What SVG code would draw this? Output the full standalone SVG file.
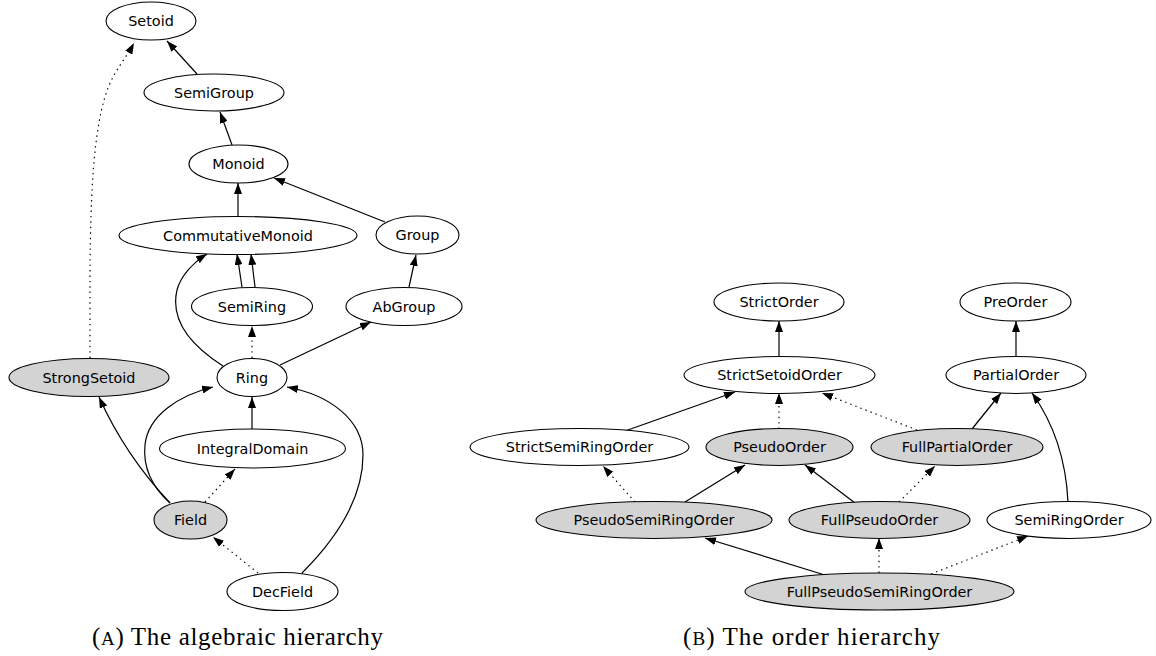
<svg xmlns="http://www.w3.org/2000/svg" width="1156" height="656" viewBox="0 0 1156 656">
<style>
.n ellipse{fill:#fff;stroke:#000;stroke-width:1.1}
.n.g ellipse{fill:#d3d3d3}
.n text{font-family:"DejaVu Sans",sans-serif;font-size:14.4px;text-anchor:middle;fill:#000}
.e path{fill:none;stroke:#000;stroke-width:1.2;marker-end:url(#ah)}
.e path.d{stroke-dasharray:1.4 4}
.cap{font-family:"Liberation Serif",serif;font-size:25px;fill:#000}
</style>
<defs>
<marker id="ah" markerUnits="userSpaceOnUse" markerWidth="11" markerHeight="8" refX="11" refY="4" orient="auto">
<path d="M0,0 L11,4 L0,8 z" fill="#000" stroke="none"/>
</marker>
</defs>
<rect width="1156" height="656" fill="#fff"/>
<g id="connectors" class="e">
<path d="M197,74 L167,41"/>
<path d="M232,145 L220,112"/>
<path d="M238,216 L238,183"/>
<path d="M385,222 L274,178"/>
<path d="M409,287 L416,255"/>
<path d="M242,287 L237,254"/>
<path d="M255,287 L251,254"/>
<path d="M223,366 C190,345 170,320 177,290 C181,275 194,262 207,254"/>
<path class="d" d="M252,358 L252,326"/>
<path d="M280,365 L371,322"/>
<path class="d" d="M90,358 C90,250 88,140 108,88 C115,70 126,58 134,43"/>
<path d="M170,503 Q125,455 99,397"/>
<path d="M170,503 C150,485 143,465 145,445 C148,415 180,395 213,387"/>
<path d="M252,429 L252,397"/>
<path class="d" d="M205,502 L235,469"/>
<path class="d" d="M258,573 L213,537"/>
<path d="M302,573 C335,540 363,500 363,455 C363,420 330,395 287,387"/>
<path d="M779,357 L779,321"/>
<path d="M1016,357 L1016,321"/>
<path d="M625,431 L735,392"/>
<path class="d" d="M779,429 L779,393"/>
<path class="d" d="M917,430 L822,393"/>
<path d="M972,429 L1001,393"/>
<path d="M1068,502 C1066,460 1055,425 1032,393"/>
<path class="d" d="M635,502 L603,466"/>
<path d="M685,502 L745,465"/>
<path d="M855,503 L805,465"/>
<path class="d" d="M899,502 L935,466"/>
<path d="M828,576 L705,538"/>
<path class="d" d="M879,573 L879,538"/>
<path class="d" d="M926,576 L1028,536"/>
</g>
<g id="Setoid" class="n"><ellipse cx="151" cy="21" rx="45" ry="19"/><text x="151" y="26">Setoid</text></g>
<g id="SemiGroup" class="n"><ellipse cx="214" cy="92.5" rx="70" ry="18.5"/><text x="214" y="97.5">SemiGroup</text></g>
<g id="Monoid" class="n"><ellipse cx="238.5" cy="164" rx="49.5" ry="19"/><text x="238.5" y="169">Monoid</text></g>
<g id="CommutativeMonoid" class="n"><ellipse cx="238" cy="235.5" rx="119" ry="19"/><text x="238" y="240.5">CommutativeMonoid</text></g>
<g id="Group" class="n"><ellipse cx="417.5" cy="235" rx="41.5" ry="19"/><text x="417.5" y="240">Group</text></g>
<g id="SemiRing" class="n"><ellipse cx="252" cy="306.5" rx="60.5" ry="19"/><text x="252" y="311.5">SemiRing</text></g>
<g id="AbGroup" class="n"><ellipse cx="404" cy="306.5" rx="58" ry="19"/><text x="404" y="311.5">AbGroup</text></g>
<g id="Ring" class="n"><ellipse cx="252" cy="377.5" rx="35" ry="19"/><text x="252" y="382.5">Ring</text></g>
<g id="StrongSetoid" class="n g"><ellipse cx="89" cy="377.5" rx="80" ry="19"/><text x="89" y="382.5">StrongSetoid</text></g>
<g id="IntegralDomain" class="n"><ellipse cx="252.5" cy="448.5" rx="93" ry="19.5"/><text x="252.5" y="453.5">IntegralDomain</text></g>
<g id="Field" class="n g"><ellipse cx="190.5" cy="520" rx="36.5" ry="19"/><text x="190.5" y="525">Field</text></g>
<g id="DecField" class="n"><ellipse cx="282.5" cy="591.5" rx="55.5" ry="19"/><text x="282.5" y="596.5">DecField</text></g>
<g id="StrictOrder" class="n"><ellipse cx="779" cy="302" rx="65" ry="19"/><text x="779" y="307">StrictOrder</text></g>
<g id="PreOrder" class="n"><ellipse cx="1015.5" cy="302" rx="55.5" ry="19"/><text x="1015.5" y="307">PreOrder</text></g>
<g id="StrictSetoidOrder" class="n"><ellipse cx="779.5" cy="375" rx="95.5" ry="18.5"/><text x="779.5" y="380">StrictSetoidOrder</text></g>
<g id="PartialOrder" class="n"><ellipse cx="1016" cy="375" rx="70" ry="18.5"/><text x="1016" y="380">PartialOrder</text></g>
<g id="StrictSemiRingOrder" class="n"><ellipse cx="579.5" cy="447" rx="109.5" ry="18.5"/><text x="579.5" y="452">StrictSemiRingOrder</text></g>
<g id="PseudoOrder" class="n g"><ellipse cx="779.5" cy="447" rx="73.5" ry="18.5"/><text x="779.5" y="452">PseudoOrder</text></g>
<g id="FullPartialOrder" class="n g"><ellipse cx="957" cy="447" rx="86" ry="18.5"/><text x="957" y="452">FullPartialOrder</text></g>
<g id="PseudoSemiRingOrder" class="n g"><ellipse cx="654" cy="520" rx="118" ry="18.5"/><text x="654" y="525">PseudoSemiRingOrder</text></g>
<g id="FullPseudoOrder" class="n g"><ellipse cx="879.5" cy="520" rx="90.5" ry="18.5"/><text x="879.5" y="525">FullPseudoOrder</text></g>
<g id="SemiRingOrder" class="n"><ellipse cx="1069" cy="520" rx="82" ry="18.5"/><text x="1069" y="525">SemiRingOrder</text></g>
<g id="FullPseudoSemiRingOrder" class="n g"><ellipse cx="879.5" cy="591.5" rx="134.5" ry="18.5"/><text x="879.5" y="596.5">FullPseudoSemiRingOrder</text></g>
<text class="cap" x="92" y="645" textLength="291" lengthAdjust="spacing">(<tspan font-size="19">A</tspan>) The algebraic hierarchy</text>
<text class="cap" x="683" y="645" textLength="257" lengthAdjust="spacing">(<tspan font-size="19">B</tspan>) The order hierarchy</text>
</svg>
